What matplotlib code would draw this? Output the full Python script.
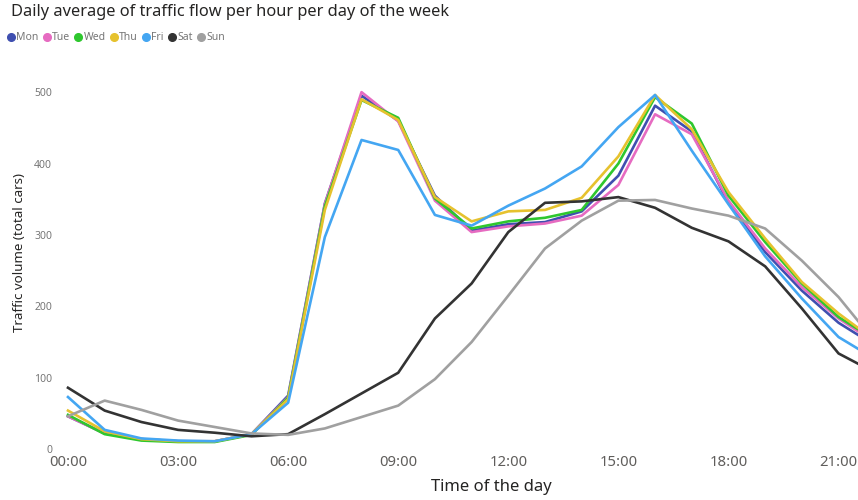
import matplotlib
matplotlib.use('Agg')
import matplotlib.pyplot as plt
from matplotlib.lines import Line2D

# hours of the day (0..22), the chart is cut off a bit after 21:00
hours = list(range(23))
hour_labels = ['00:00', '03:00', '06:00', '09:00', '12:00', '15:00', '18:00', '21:00']

mon = [46, 22, 14, 11, 11, 21, 75, 344, 495, 460, 355, 306, 315, 318, 333, 383, 481, 445, 345, 276, 222, 177, 145]
tue = [46, 22, 14, 11, 11, 21, 73, 343, 500, 459, 348, 304, 312, 316, 327, 370, 469, 441, 348, 281, 227, 183, 149]
wed = [48, 21, 12, 10, 10, 20, 72, 340, 489, 464, 351, 309, 319, 324, 335, 400, 493, 456, 355, 290, 232, 185, 153]
thu = [54, 25, 14, 11, 11, 21, 70, 335, 490, 461, 353, 319, 333, 335, 352, 410, 496, 448, 360, 295, 234, 190, 152]
fri = [73, 27, 15, 12, 11, 21, 65, 297, 433, 419, 328, 313, 341, 365, 396, 451, 496, 418, 343, 270, 211, 157, 126]
sat = [86, 54, 38, 27, 23, 18, 21, 49, 78, 107, 183, 232, 304, 345, 347, 353, 338, 310, 291, 256, 197, 134, 107]
sun = [46, 68, 55, 40, 31, 22, 20, 29, 45, 61, 98, 150, 215, 281, 320, 348, 349, 337, 327, 309, 264, 213, 150]

days = ['Mon', 'Tue', 'Wed', 'Thu', 'Fri', 'Sat', 'Sun']
series = [mon, tue, wed, thu, fri, sat, sun]
colors = ['#3F4FB0', '#E66BC1', '#2EC72E', '#E6C22E', '#44A6F2', '#333333', '#A0A0A0']

plt.rcParams['font.family'] = ['Noto Sans', 'DejaVu Sans']

fig = plt.figure(figsize=(8.58, 5.0), dpi=100)
ax = fig.add_axes([55 / 858, 1 - 452 / 500, 1 - 55 / 858, (452 - 60) / 500])

for name, vals, col in zip(days, series, colors):
    ax.plot(hours, vals, color=col, linewidth=1.9, label=name, solid_joinstyle='round')

ax.set_xlim(-0.354, 21.53)
ax.set_ylim(-4, 545)
ax.set_xticks(range(0, 22, 3))
ax.set_xticklabels(hour_labels, fontsize=10.7, color='#605E5C')
ax.set_yticks([0, 100, 200, 300, 400, 500])
ax.set_yticklabels(['0', '100', '200', '300', '400', '500'], fontsize=7.5, color='#777777')
ax.tick_params(axis='both', length=0)
ax.tick_params(axis='x', pad=2)
ax.tick_params(axis='y', pad=2)
for s in ax.spines.values():
    s.set_visible(False)

fig.text(20 / 858, 1 - 253 / 500, 'Traffic volume (total cars)', fontsize=9.6, color='#252423',
         rotation=90, ha='center', va='center')
fig.text(491 / 858, 1 - 487 / 500, 'Time of the day', fontsize=12, color='#252423',
         ha='center', va='center', fontweight='medium')

fig.text(11 / 858, 1 - 12 / 500, 'Daily average of traffic flow per hour per day of the week',
         fontsize=11.8, color='#252423', ha='left', va='center')

handles = [Line2D([0], [0], marker='o', linestyle='', markersize=5.5, color=c) for c in colors]
fig.legend(handles, days, loc='center left', bbox_to_anchor=(8 / 858, 1 - 38 / 500), ncol=7,
           frameon=False, fontsize=7.5, handlelength=0.5, handletextpad=0.25, columnspacing=0.55,
           borderaxespad=0, borderpad=0, labelcolor='#777777')

plt.savefig('out.png', dpi=100)
